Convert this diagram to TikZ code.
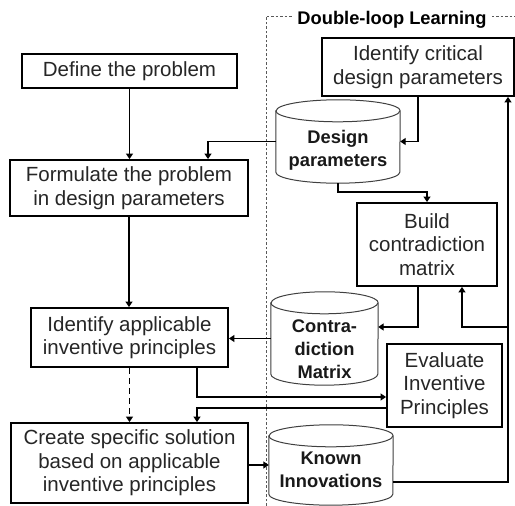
\documentclass[tikz,border=0pt]{standalone}
\usepackage{fontspec}
\setmainfont{Liberation Sans}
\usetikzlibrary{arrows.meta}

% database drum drawn around an empty node of the drum's size
\newcommand\drumoutline[3]{% node, x radius, y radius
  \draw[drumline] ([yshift=-#3]#1.north west) -- ([yshift=#3]#1.south west)
    arc[start angle=180,end angle=360,x radius=#2,y radius=#3]
    -- ([yshift=-#3]#1.north east)
    arc[start angle=0,end angle=180,x radius=#2,y radius=#3] -- cycle;
  \draw[drumline,fill=none] ([yshift=-#3]#1.north west)
    arc[start angle=180,end angle=360,x radius=#2,y radius=#3];
}

\tikzset{
  x=1pt, y=1pt,
  stepbox/.style={draw=black, line width=1.9pt, fill=white, inner sep=0pt,
    align=center, font=\fontsize{20.5}{23.5}\selectfont, text=black!85},
  drumshape/.style={draw=none, inner sep=0pt},
  drumline/.style={draw=black!75, line width=1pt, fill=white},
  drumtext/.style={inner sep=0pt, align=center,
    font=\fontsize{18.3}{23}\selectfont\bfseries, text=black!90},
  arr/.style={line width=1.7pt, -{Triangle[length=5.5pt,width=7pt]}},
  dasharr/.style={arr, dash pattern=on 6pt off 4pt},
  frame/.style={draw=black!65, line width=0.8pt, dash pattern=on 2.5pt off 2pt},
}

\begin{document}
\begin{tikzpicture}
\useasboundingbox (0,0) rectangle (515,506);

% double-loop region
\draw[frame] (266,0) -- (266,490) -- (515,490);
\node[fill=white, inner xsep=5pt, inner ysep=2pt,
  font=\fontsize{18.3}{20}\selectfont\bfseries] (loop) at (392,486) {Double-loop Learning};

% main process steps
\node[stepbox, minimum width=215pt, minimum height=34pt] (define) at (129.5,435) {Define the problem};
\node[stepbox, minimum width=238pt, minimum height=56pt] (formulate) at (129,318) {Formulate the problem\\in design parameters};
\node[stepbox, minimum width=197pt, minimum height=59pt] (identapp) at (129.5,168.5) {Identify applicable\\inventive principles};
\node[stepbox, minimum width=237pt, minimum height=80pt] (create) at (129.5,43) {Create specific solution\\based on applicable\\inventive principles};

% learning loop steps
\node[stepbox, minimum width=192pt, minimum height=58pt] (critical) at (418,439) {Identify critical\\design parameters};
\node[stepbox, minimum width=140pt, minimum height=83pt] (build) at (427,261.5) {Build\\contradiction\\matrix};
\node[stepbox, minimum width=115pt, minimum height=83pt] (evaluate) at (444.5,120.5) {Evaluate\\Inventive\\Principles};

% data stores
\node[drumshape, minimum width=124pt, minimum height=83pt] (dp) at (338,364.5) {};
\drumoutline{dp}{62pt}{11pt}
\node[drumtext] (dptext) at ([yshift=-8.5pt]dp.center) {Design\\parameters};

\node[drumshape, minimum width=107pt, minimum height=93pt] (cm) at (324.5,167.5) {};
\drumoutline{cm}{53.5pt}{11pt}
\node[drumtext] (cmtext) at ([yshift=-10.5pt]cm.center) {Contra-\\diction\\Matrix};

\node[drumshape, minimum width=124pt, minimum height=80pt] (ki) at (331,41) {};
\drumoutline{ki}{62pt}{11pt}
\node[drumtext] (kitext) at ([yshift=-5pt]ki.center) {Known\\Innovations};

% connectors
\draw[arr] (define.south) -- (define.south |- formulate.north);
\draw[arr] (dp.west) -| ([xshift=79pt]formulate.north);
\draw[arr] (critical.south) |- (dp.east);
\draw[arr] (dp.south) -- ++(0,-9) -| (build.north);
\draw[arr] (formulate.south) -- (formulate.south |- identapp.north);
\draw[arr] ([xshift=-9pt]build.south) |- ([yshift=11.5pt]cm.east);
\draw[arr] (cm.west) -- (identapp.east |- cm.west);
\draw[arr] ([xshift=67.5pt]identapp.south) |- ([yshift=-11.5pt]evaluate.west);
\draw[arr] ([yshift=-22.5pt]evaluate.west) -| ([xshift=67.5pt]create.north);
\draw[dasharr] (identapp.south) -- (identapp.south |- create.north);
\draw[arr] (ki.west -| create.east) -- (ki.west);
\draw[arr] ([yshift=-17pt]ki.east) -| ([xshift=90pt]critical.south);
\coordinate (branch) at (508,179);
\draw[arr] (branch) -| ([xshift=35pt]build.south);
\end{tikzpicture}
\end{document}
